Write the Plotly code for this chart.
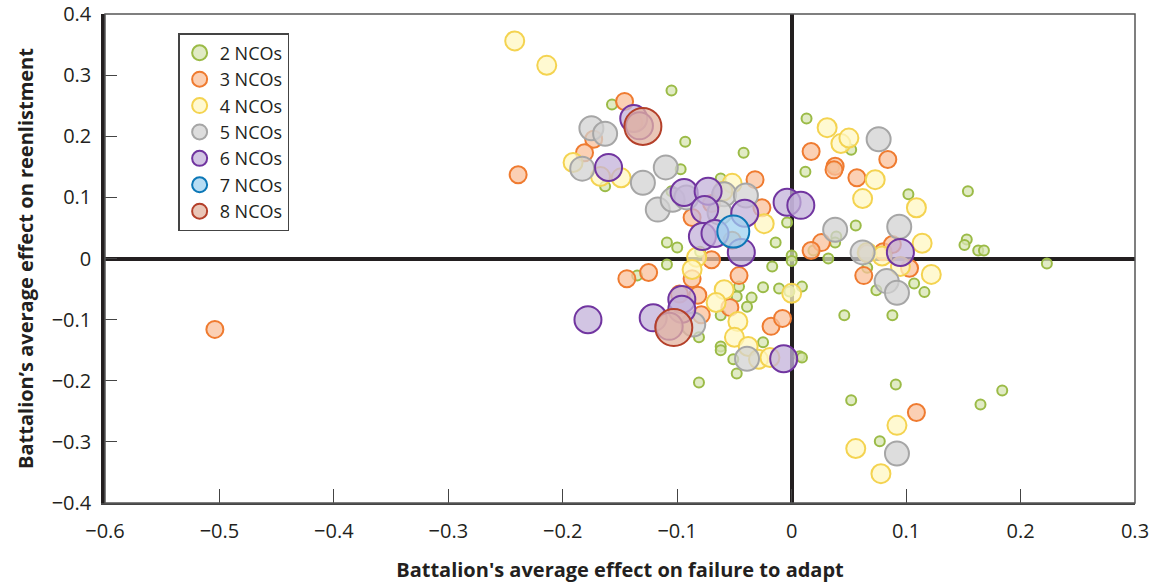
import plotly.graph_objects as go

# Battalion effects, grouped by number of NCOs
x2 = [-0.157, -0.105, -0.093, -0.097, -0.163, -0.042, -0.062, -0.109, -0.100, -0.014,
      -0.004, 0.000, 0.000, -0.109, -0.017, -0.135, -0.046, -0.048, -0.035, -0.025,
      -0.011, -0.039, -0.062, -0.081, -0.062, -0.062, -0.051, -0.048, -0.081, -0.025,
      -0.002, 0.007, 0.013, 0.052, 0.012, 0.037, 0.102, 0.154, 0.056, 0.039,
      0.038, 0.153, 0.151, 0.163, 0.168, 0.019, 0.032, 0.107, 0.116, 0.074,
      0.009, 0.046, 0.088, 0.009, 0.091, 0.052, 0.165, 0.184, 0.077, 0.223,
      0.066, -0.080, -0.105]
y2 = [0.252, 0.275, 0.191, 0.146, 0.118, 0.173, 0.131, 0.026, 0.018, 0.026,
      0.059, 0.005, -0.004, -0.010, -0.013, -0.028, -0.046, -0.062, -0.064, -0.047,
      -0.049, -0.079, -0.093, -0.129, -0.144, -0.150, -0.165, -0.188, -0.203, -0.137,
      -0.054, -0.160, 0.229, 0.178, 0.142, 0.149, 0.105, 0.110, 0.054, 0.036,
      0.026, 0.031, 0.022, 0.013, 0.013, 0.013, 0.000, -0.041, -0.055, -0.052,
      -0.046, -0.093, -0.093, -0.162, -0.206, -0.232, -0.239, -0.216, -0.299, -0.008,
      -0.015, 0.011, 0.110]

x3 = [-0.504, -0.239, -0.146, -0.173, -0.181, -0.032, -0.026, -0.087, -0.070, -0.070,
      -0.052, -0.144, -0.125, -0.087, -0.046, -0.082, -0.079, -0.054, -0.018, -0.008,
      -0.098, 0.017, 0.038, 0.037, 0.084, 0.057, 0.026, 0.017, 0.066, 0.080,
      0.088, 0.103, 0.063, 0.109, -0.138]
y3 = [-0.116, 0.137, 0.257, 0.195, 0.173, 0.129, 0.083, 0.067, 0.090, -0.002,
      0.030, -0.033, -0.023, -0.033, -0.028, -0.060, -0.092, -0.080, -0.111, -0.098,
      -0.058, 0.175, 0.151, 0.145, 0.162, 0.132, 0.026, 0.013, 0.008, 0.011,
      0.023, -0.016, -0.028, -0.252, 0.222]

x4 = [-0.242, -0.214, -0.191, -0.167, -0.149, -0.052, -0.060, -0.024, -0.083, -0.087,
      -0.059, -0.066, -0.047, -0.050, -0.038, -0.029, -0.019, 0.000, 0.031, 0.043,
      0.050, 0.073, 0.062, 0.109, 0.114, 0.066, 0.079, 0.095, 0.122, 0.092,
      0.056, 0.078]
y4 = [0.356, 0.316, 0.157, 0.134, 0.132, 0.123, 0.110, 0.057, 0.002, -0.018,
      -0.051, -0.072, -0.103, -0.129, -0.144, -0.165, -0.162, -0.057, 0.214, 0.188,
      0.197, 0.129, 0.098, 0.083, 0.025, 0.010, 0.004, -0.013, -0.026, -0.273,
      -0.311, -0.352]

x5 = [-0.175, -0.163, -0.183, -0.130, -0.110, -0.117, -0.104, -0.092, -0.059, -0.040,
      -0.063, -0.086, -0.039, 0.076, 0.038, 0.062, 0.094, 0.083, 0.092, 0.092]
y5 = [0.213, 0.204, 0.147, 0.124, 0.149, 0.080, 0.096, 0.100, 0.105, 0.103,
      0.075, -0.108, -0.164, 0.195, 0.047, 0.010, 0.052, -0.037, -0.056, -0.319]

x6 = [-0.138, -0.133, -0.160, -0.094, -0.073, -0.076, -0.041, -0.078, -0.067, -0.044,
      -0.004, 0.008, 0.095, -0.178, -0.121, -0.096, -0.096, -0.107, -0.007]
y6 = [0.229, 0.217, 0.149, 0.108, 0.110, 0.080, 0.074, 0.036, 0.041, 0.010,
      0.092, 0.087, 0.010, -0.100, -0.097, -0.067, -0.083, -0.111, -0.164]

x7 = [-0.051]
y7 = [0.044]

x8 = [-0.130, -0.103]
y8 = [0.216, -0.113]

x_ticks = [-0.6, -0.5, -0.4, -0.3, -0.2, -0.1, 0, 0.1, 0.2, 0.3]
y_ticks = [-0.4, -0.3, -0.2, -0.1, 0, 0.1, 0.2, 0.3, 0.4]


def fmt(v):
    s = f"{abs(v):g}"
    return ("\u2212" + s) if v < 0 else s


groups = [
    ("2 NCOs", x2, y2, 10, "rgba(215,228,178,0.75)", "#9bbb47"),
    ("3 NCOs", x3, y3, 17, "rgba(249,192,155,0.75)", "#ef7b30"),
    ("4 NCOs", x4, y4, 19, "rgba(255,247,194,0.75)", "#f4d350"),
    ("5 NCOs", x5, y5, 24, "rgba(210,210,210,0.75)", "#a6a6a6"),
    ("6 NCOs", x6, y6, 27, "rgba(195,177,217,0.75)", "#7135a0"),
    ("7 NCOs", x7, y7, 32, "rgba(159,210,240,0.75)", "#0d78b7"),
    ("8 NCOs", x8, y8, 37, "rgba(227,179,159,0.75)", "#b4402a"),
]

FONT = "Open Sans"
INK = "#231f20"

fig = go.Figure()
for name, xs, ys, size, fill, edge in groups:
    fig.add_trace(go.Scatter(
        x=xs, y=ys, mode="markers", name=name, legendgroup=name, showlegend=False,
        marker=dict(size=size, color=fill, line=dict(color=edge, width=2)),
    ))
# Legend keys drawn at one common size
for name, xs, ys, size, fill, edge in groups:
    fig.add_trace(go.Scatter(
        x=[None], y=[None], mode="markers", name=name, legendgroup=name,
        marker=dict(size=15, color=fill, line=dict(color=edge, width=2)),
    ))

# Frame: thin top/right border
fig.add_shape(type="rect", xref="paper", yref="paper", x0=0, x1=1, y0=0, y1=1,
              line=dict(color="#555555", width=1.5), layer="above")

fig.update_layout(
    width=1157, height=584,
    margin=dict(l=105, r=22, t=14, b=81, autoexpand=False),
    paper_bgcolor="white", plot_bgcolor="white",
    font=dict(family=FONT, size=20, color=INK),
    showlegend=True,
    legend=dict(
        x=0.071, y=0.961, xanchor="left", yanchor="top",
        bgcolor="white", bordercolor="#444444", borderwidth=1.5,
        font=dict(family=FONT, size=18, color=INK),
        itemsizing="trace", tracegroupgap=0,
    ),
    xaxis=dict(
        range=[-0.6, 0.3], automargin=False,
        tickvals=x_ticks, ticktext=[fmt(v) for v in x_ticks],
        tickfont=dict(family=FONT, size=20, color=INK),
        showgrid=False, zeroline=True, zerolinecolor=INK, zerolinewidth=3.5,
        showline=True, linecolor="#444444", linewidth=1.5,
        ticks="inside", ticklen=14, tickcolor="#444444", tickwidth=1,
        ticklabelstandoff=9,
        title=dict(text="<b>Battalion's average effect on failure to adapt</b>",
                   font=dict(family=FONT, size=20, color=INK), standoff=20),
        fixedrange=True,
    ),
    yaxis=dict(
        range=[-0.4, 0.4], automargin=False,
        tickvals=y_ticks, ticktext=[fmt(v) for v in y_ticks],
        tickfont=dict(family=FONT, size=20, color=INK),
        showgrid=False, zeroline=True, zerolinecolor=INK, zerolinewidth=3.5,
        showline=True, linecolor=INK, linewidth=3.5,
        ticks="inside", ticklen=12, tickcolor="#444444", tickwidth=1,
        ticklabelstandoff=6,
        title=dict(text="<b>Battalion\u2019s average effect on reenlistment</b>",
                   font=dict(family=FONT, size=20, color=INK), standoff=14),
        fixedrange=True,
    ),
)

fig.write_html("out.html")
